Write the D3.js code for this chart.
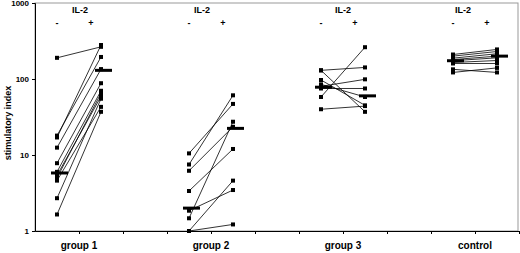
<!DOCTYPE html>
<html>
<head>
<meta charset="utf-8">
<script src="https://cdn.jsdelivr.net/npm/d3@7"></script>
<style>
  body { margin: 0; background: #fff; }
  svg { font-family: "Liberation Sans", Arial, sans-serif; font-weight: bold; }
</style>
</head>
<body>
<svg width="520" height="253"></svg>
<script>
// groups and paired values (before "-" / after "+" IL-2)
const groups = ['group 1', 'group 2', 'group 3', 'control'];

const g1Minus = [190, 18, 17, 12.5, 7.8, 6.0, 5.4, 5.0, 4.6, 2.7, 1.65];
const g1Plus  = [265, 195, 280, 135, 88, 70, 59, 65, 43, 55, 37];

const g2Minus = [10.5, 7.5, 6.2, 3.36, 1.85, 1.47, 1.0, 1.0];
const g2Plus  = [47, 61, 23.5, 12, 3.46, 27.4, 4.6, 1.22];

const g3Minus = [130, 130, 97, 80, 75, 58, 40, 85];
const g3Plus  = [142, 37, 45, 99, 75, 262, 44, 58];

const ctrlMinus = [210, 200, 188, 180, 174, 165, 160, 134, 122];
const ctrlPlus  = [245, 230, 215, 200, 190, 175, 160, 122, 140];

// thick bars
const barMinus = [5.8, 2.0, 78, 174];
const barPlus  = [130, 22.4, 60, 200];

const yTicks = [1, 10, 100, 1000];

const pairs = [
  [g1Minus, g1Plus],
  [g2Minus, g2Plus],
  [g3Minus, g3Plus],
  [ctrlMinus, ctrlPlus]
];

const svg = d3.select('svg');

const x = d3.scaleLinear().domain([0, 11]).range([35, 519]);
const y = d3.scaleLog().domain([1, 1000]).range([231, 3]);

// frame
svg.append('rect')
    .attr('x', 35).attr('y', 3)
    .attr('width', 483).attr('height', 228)
    .attr('fill', 'none')
    .attr('stroke', '#999')
    .attr('stroke-width', 1);

// y axis
const yAxis = svg.append('g')
    .attr('transform', 'translate(35,0)')
    .call(d3.axisLeft(y).tickValues(yTicks).tickFormat(d3.format('d')).tickSize(3));
yAxis.select('.domain').attr('stroke', '#000');
yAxis.selectAll('text').attr('font-size', 8).attr('font-weight', 'bold').attr('font-family', 'Liberation Sans, Arial, sans-serif');

// x axis
const centers = groups.map((g, i) => 3 * i + 1);
const xAxis = svg.append('g')
    .attr('transform', 'translate(0,231)')
    .call(d3.axisBottom(x).tickValues(d3.range(1, 12)).tickFormat('').tickSize(3).tickSizeOuter(0));
xAxis.select('.domain').attr('stroke', '#000');

svg.append('g').selectAll('text')
    .data(groups)
    .enter().append('text')
    .attr('x', (d, i) => x(centers[i]))
    .attr('y', 249)
    .attr('text-anchor', 'middle')
    .attr('font-size', 10)
    .text(d => d);

// y label
svg.append('text')
    .attr('transform', 'translate(11,123) rotate(-90)')
    .attr('text-anchor', 'middle')
    .attr('font-size', 9)
    .text('stimulatory index');

// IL-2 headings
const ilNudge = [1, -9, 0, -12];
svg.append('g').selectAll('text')
    .data(groups)
    .enter().append('text')
    .attr('x', (d, i) => x(centers[i]) + ilNudge[i])
    .attr('y', 13)
    .attr('text-anchor', 'middle')
    .attr('font-size', 9)
    .text('IL-2');

const signs = svg.append('g').attr('font-size', 9).attr('text-anchor', 'middle');
groups.forEach((g, i) => {
  signs.append('text').attr('x', x(3 * i + 0.5)).attr('y', 26).text('-');
  signs.append('text').attr('x', x(3 * i + 0.5) + 34).attr('y', 26).text('+');
});

// lines and points
pairs.forEach((p, i) => {
  const xm = x(3 * i + 0.5), xp = x(3 * i + 1.5);
  const data = p[0].map((v, j) => ({ a: v, b: p[1][j] }));
  const grp = svg.append('g');
  grp.selectAll('line')
      .data(data)
      .enter().append('line')
      .attr('x1', xm).attr('y1', d => y(d.a))
      .attr('x2', xp).attr('y2', d => y(d.b))
      .attr('stroke', '#000')
      .attr('stroke-width', 0.8);
  grp.selectAll('rect.m')
      .data(p[0])
      .enter().append('rect')
      .attr('class', 'm')
      .attr('x', xm - 2).attr('y', d => y(d) - 2)
      .attr('width', 4).attr('height', 4)
      .attr('fill', '#000');
  grp.selectAll('rect.p')
      .data(p[1])
      .enter().append('rect')
      .attr('class', 'p')
      .attr('x', xp - 2).attr('y', d => y(d) - 2)
      .attr('width', 4).attr('height', 4)
      .attr('fill', '#000');
  // thick bars
  [[xm, barMinus[i]], [xp, barPlus[i]]].forEach(([cx, v]) => {
    grp.append('line')
        .attr('x1', cx - 6).attr('x2', cx + 11)
        .attr('y1', y(v)).attr('y2', y(v))
        .attr('stroke', '#000')
        .attr('stroke-width', 3);
  });
});
</script>
</body>
</html>
